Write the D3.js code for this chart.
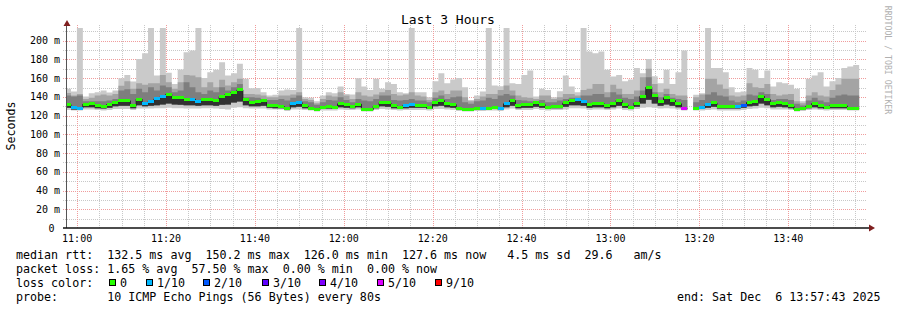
<!DOCTYPE html>
<html>
<head>
<meta charset="utf-8">
<script src="https://cdn.jsdelivr.net/npm/d3@7"></script>
<style>
body { margin: 0; background: #fff; }
text { font-family: "DejaVu Sans Mono", monospace; white-space: pre; }
</style>
</head>
<body>
<svg id="chart" width="897" height="310"></svg>
<script>
// smokeping: one bar per 80s step, 10 pings each
const stepSec = 80;
const firstBar = new Date(2025, 11, 6, 10, 57, 17);
const endTime = new Date(2025, 11, 6, 13, 57, 43);
const upperLimit = 213.6;

const median = [
  131.8,128.3,127.9,132.2,132.9,130.8,130.0,131.8,134.3,136.5,
  135.8,130.8,137.5,133.3,135.0,137.9,140.0,142.9,139.0,139.0,
  137.2,137.5,135.0,137.5,137.5,136.1,140.4,142.9,145.0,147.5,
  136.8,134.0,135.4,136.5,131.1,130.4,129.7,127.2,132.6,134.0,
  130.4,127.9,126.2,128.3,129.7,128.6,132.6,131.5,130.0,132.2,
  126.2,126.5,130.0,134.0,133.6,130.8,128.3,130.8,131.8,131.1,
  131.1,128.3,134.0,136.1,132.6,131.8,127.2,126.2,126.9,127.2,
  127.2,127.9,128.3,127.6,132.6,136.1,130.8,131.5,131.8,133.6,
  131.8,128.3,130.0,130.0,133.6,136.5,137.5,135.0,131.5,132.6,
  132.6,130.8,132.6,136.5,131.5,129.0,133.3,140.7,150.2,141.5,
  135.4,139.0,136.1,132.6,127.9,null,127.9,128.3,131.5,133.6,
  129.7,129.7,129.4,129.4,131.1,134.0,135.4,140.7,137.2,132.6,
  133.6,132.6,130.4,126.5,127.6,130.0,132.9,130.4,128.3,130.4,
  130.4,130.4,127.9,127.9
];

// lost pings out of 10
const loss = [
  0,1,1,0,0,0,0,0,0,0,
  0,0,0,1,1,1,1,0,0,0,
  0,1,1,0,0,0,0,0,0,0,
  0,0,0,0,0,0,0,0,1,1,
  0,0,0,0,0,0,0,0,0,0,
  0,0,0,0,0,0,0,1,1,0,
  0,0,0,0,0,0,0,0,0,0,
  1,0,0,1,1,0,0,0,0,0,
  0,0,0,0,0,0,1,1,0,0,
  0,0,0,0,0,0,0,0,0,0,
  0,0,0,0,5,null,0,1,1,0,
  0,0,0,1,2,0,0,0,0,0,
  0,0,0,0,0,0,0,0,0,0,
  0,0,0,0
];

const pingMax = [
  148.6,145.7,213.6,140.4,144.0,145.0,146.8,144.7,146.8,160.0,
  163.5,156.4,180.6,186.7,213.6,162.8,213.6,165.7,153.9,169.2,
  187.7,189.5,213.6,160.3,166.4,168.9,177.1,162.8,165.3,175.3,
  159.3,149.3,149.6,145.0,141.5,142.2,146.8,147.9,147.5,213.6,
  139.7,139.0,135.4,141.5,145.0,144.0,151.1,143.2,142.5,160.0,
  151.1,147.5,159.3,148.6,155.7,153.9,145.0,144.0,213.6,145.0,
  145.0,139.7,156.8,165.3,154.6,158.5,160.3,150.4,136.8,141.5,
  145.7,213.6,152.1,151.4,213.6,154.6,153.9,163.5,168.2,140.4,
  148.6,147.5,139.7,146.1,162.8,151.1,145.0,213.6,188.5,186.7,
  188.5,168.9,161.8,163.5,156.8,158.5,171.0,165.3,180.6,162.1,
  154.6,168.9,153.9,166.4,189.5,null,142.2,144.0,213.6,171.0,
  171.0,166.4,150.4,145.0,145.7,171.0,168.9,160.3,168.2,151.1,
  155.7,154.6,152.9,148.6,135.4,159.3,162.8,166.4,151.1,156.8,
  160.3,171.0,172.5,174.2
];

const pingHigh = [
  144.3,141.5,143.2,137.9,139.0,141.5,142.5,141.5,143.2,152.0,
  156.8,148.6,154.6,152.9,154.6,154.6,163.5,155.7,148.6,155.7,
  163.5,162.8,161.0,150.4,155.7,150.4,158.2,152.1,155.7,159.3,
  143.2,143.2,142.5,141.5,139.7,139.7,141.5,141.5,142.5,145.0,
  137.9,136.8,133.3,137.9,141.5,140.4,145.0,141.5,137.9,145.0,
  141.5,140.4,142.5,145.0,147.5,143.2,141.5,142.5,145.0,141.5,
  140.4,136.8,145.0,146.8,143.2,146.8,146.8,139.7,135.4,137.9,
  140.4,143.2,143.2,147.5,152.1,146.8,141.5,139.7,139.0,137.9,
  141.5,141.5,137.9,139.7,143.2,143.2,141.5,147.5,148.6,153.9,
  153.9,145.0,152.9,148.6,143.2,143.2,146.8,161.0,170.0,153.9,
  145.0,148.6,143.2,141.5,141.5,null,139.7,142.5,159.3,159.3,
  153.2,148.6,141.5,140.4,141.5,154.6,150.4,149.6,153.9,143.2,
  141.5,142.5,143.2,135.4,133.3,141.5,145.0,141.5,140.4,147.5,
  153.2,159.3,159.3,159.3
];

const pingMid = [
  141.5,140.4,141.5,135.4,135.4,135.4,135.4,136.1,137.9,146.8,
  148.2,143.2,148.6,145.0,150.4,146.8,152.1,150.4,145.0,146.8,
  155.7,150.4,145.0,143.2,146.8,145.0,150.4,146.8,150.4,153.9,
  139.7,139.7,139.0,137.9,136.8,136.8,137.9,136.1,139.0,141.5,
  135.4,134.3,131.5,134.3,136.8,136.1,139.7,136.8,134.3,137.9,
  136.1,135.4,137.9,141.5,141.5,136.8,136.1,136.8,137.9,136.1,
  136.1,134.3,139.0,141.5,137.9,139.7,140.4,134.3,132.6,135.4,
  136.1,139.0,137.9,141.5,143.2,141.5,136.8,136.1,135.4,135.4,
  136.8,134.3,134.3,136.1,137.9,139.0,139.0,141.5,141.5,143.2,
  143.2,139.7,145.0,142.5,139.0,137.9,140.4,146.8,161.0,145.0,
  139.7,143.2,139.0,137.9,136.8,null,134.3,136.8,142.5,145.0,
  141.5,140.4,136.1,134.3,136.1,142.5,141.5,145.0,143.2,136.8,
  137.9,137.9,136.8,132.6,130.8,136.1,139.0,136.1,134.3,139.0,
  141.5,142.5,141.5,141.5
];

const pingLow = [
  128.5,126.5,126.5,129.0,129.0,128.0,127.5,128.5,130.0,130.5,
  130.5,128.0,131.0,130.0,130.5,131.0,132.0,133.0,132.0,131.5,
  131.0,131.0,130.5,131.0,131.0,130.5,131.5,132.0,134.0,135.0,
  131.0,130.0,130.0,130.5,128.5,128.0,128.0,126.5,129.0,129.5,
  128.0,126.5,125.5,127.0,127.5,127.0,129.0,128.5,128.0,129.0,
  125.5,125.5,128.0,130.0,129.5,128.0,127.0,128.0,128.5,128.5,
  128.5,127.0,130.0,130.5,129.0,128.5,126.0,125.5,125.5,126.0,
  126.0,126.5,127.0,126.5,129.0,130.5,128.0,128.5,128.5,129.5,
  128.5,127.0,128.0,128.0,129.5,131.0,131.0,130.5,128.5,129.0,
  129.0,128.0,129.0,130.5,128.5,127.5,129.5,133.0,137.0,133.0,
  130.5,132.0,130.5,129.0,126.5,null,126.5,127.0,128.5,129.5,
  127.5,127.5,127.5,127.5,128.5,130.0,130.5,133.0,131.0,129.0,
  129.5,129.0,128.0,125.5,126.0,128.0,129.0,128.0,127.0,128.0,
  128.0,128.0,126.5,126.5
];

const pingMin = [
  126.0,125.5,125.5,126.5,126.5,126.0,125.5,126.0,127.0,127.0,
  127.0,126.0,127.5,127.5,127.5,128.0,128.0,128.5,128.0,128.0,
  127.5,127.5,127.5,128.0,128.0,127.5,127.0,126.5,128.5,129.0,
  128.0,127.5,127.5,127.5,126.5,126.5,126.5,125.0,126.5,126.5,
  126.0,125.5,124.5,125.5,125.5,125.5,126.5,126.0,126.0,126.5,
  124.5,124.5,126.0,127.0,126.5,126.0,125.5,126.0,126.0,126.0,
  126.0,125.5,127.0,127.0,126.5,126.0,125.0,124.5,124.5,125.0,
  125.0,125.5,125.5,125.0,126.5,127.5,126.0,126.0,126.0,127.0,
  126.0,125.5,126.0,126.0,126.5,128.0,128.0,127.5,126.0,126.5,
  126.5,126.0,126.5,127.5,126.0,125.5,127.0,128.5,129.0,128.5,
  127.5,128.0,127.5,126.5,125.5,null,125.5,125.5,126.0,126.5,
  125.5,125.5,125.5,125.5,126.0,127.0,127.5,128.5,128.0,126.5,
  126.5,126.5,126.0,124.5,125.0,126.0,126.5,126.0,125.5,126.0,
  126.0,126.0,125.5,125.5
];

const yTicks = [0, 20, 40, 60, 80, 100, 120, 140, 160, 180, 200];
const lossLevels = [0, 1, 2, 3, 4, 5, 9];
const lossLabels = ["0", "1/10", "2/10", "3/10", "4/10", "5/10", "9/10"];
const lossColors = ["#26ff00", "#00b8ff", "#0059ff", "#5e00ff", "#7e00ff", "#dd00ff", "#ff0000"];

const statsLine = "median rtt:  132.5 ms avg  150.2 ms max  126.0 ms min  127.6 ms now   4.5 ms sd  29.6   am/s";
const lossLine = "packet loss: 1.65 % avg  57.50 % max  0.00 % min  0.00 % now";
const probeLine = "probe:       10 ICMP Echo Pings (56 Bytes) every 80s";
const endLine = "end: Sat Dec  6 13:57:43 2025";

const svg = d3.select("#chart");

const xScale = d3.scaleTime()
    .domain([d3.timeSecond.offset(endTime, -10800), endTime])
    .range([67, 867]);

const yScale = d3.scaleLinear()
    .domain([0, upperLimit])
    .range([228, 28]);

const lossColor = d3.scaleOrdinal().domain(lossLevels).range(lossColors);

const bars = median.map((m, i) => ({
    t0: d3.timeSecond.offset(firstBar, i * stepSec),
    t1: d3.timeSecond.offset(firstBar, (i + 1) * stepSec),
    median: m, loss: loss[i],
    max: pingMax[i], high: pingHigh[i], mid: pingMid[i], low: pingLow[i], min: pingMin[i]
}));
const steps = bars.flatMap(d => [{t: d.t0, d}, {t: d.t1, d}]);

svg.append("defs").append("clipPath").attr("id", "plot")
    .append("rect").attr("x", 67).attr("y", 28).attr("width", 800).attr("height", 200);

// grid
const px = v => Math.round(v) + 0.5;
const hGrid = d3.range(10, 220, 10);
svg.append("g")
    .selectAll("line")
    .data(hGrid)
    .join("line")
    .attr("x1", 63).attr("x2", 867)
    .attr("y1", d => px(yScale(d))).attr("y2", d => px(yScale(d)))
    .attr("stroke", d => d % 20 === 0 ? "#f09c9c" : "#c8c8c8")
    .attr("stroke-dasharray", "1,1");

const minorTimes = d3.timeMinute.every(5).range(xScale.domain()[0], endTime);
svg.append("g")
    .selectAll("line")
    .data(minorTimes)
    .join("line")
    .attr("x1", d => px(xScale(d))).attr("x2", d => px(xScale(d)))
    .attr("y1", 228).attr("y2", 25)
    .attr("stroke", d => d.getMinutes() % 20 === 0 ? "#f09c9c" : "#c8c8c8")
    .attr("stroke-dasharray", "1,1");

// smoke
const plot = svg.append("g").attr("clip-path", "url(#plot)");
const bands = [
    ["min", "max", "#cacaca"],
    ["low", "high", "#a4a4a4"],
    ["low", "mid", "#7e7e7e"],
    ["low", "median", "#323232"]
];
bands.forEach(([lo, hi, color]) => {
    const area = d3.area()
        .defined(p => p.d.median != null)
        .x(p => xScale(p.t))
        .y0(p => yScale(p.d[lo]))
        .y1(p => yScale(p.d[hi]));
    plot.append("path").datum(steps).attr("fill", color).attr("d", area);
});

const medianLine = d3.line()
    .defined(p => p.d.median != null)
    .x(p => xScale(p.t))
    .y(p => yScale(p.d.median));
plot.append("path").datum(steps)
    .attr("fill", "none").attr("stroke", "#202020").attr("stroke-width", 1)
    .attr("d", medianLine);

plot.append("g")
    .attr("shape-rendering", "crispEdges")
    .selectAll("rect")
    .data(bars.filter(d => d.median != null))
    .join("rect")
    .attr("x", d => xScale(d.t0))
    .attr("width", d => xScale(d.t1) - xScale(d.t0))
    .attr("y", d => yScale(d.median) - 1.5)
    .attr("height", 3)
    .attr("fill", d => lossColor(d.loss));

// axes
svg.append("line").attr("x1", 66.5).attr("x2", 66.5).attr("y1", 228).attr("y2", 24)
    .attr("stroke", "#555");
svg.append("line").attr("x1", 63).attr("x2", 869).attr("y1", 228).attr("y2", 228)
    .attr("stroke", "#111").attr("stroke-width", 1.5);
svg.append("path").attr("d", "M63.5,26L70.5,26L67,20Z").attr("fill", "#7f1f1f");
svg.append("path").attr("d", "M869,224.5L869,231.5L875,228Z").attr("fill", "#7f1f1f");

svg.append("g")
    .attr("font-size", 10)
    .attr("text-anchor", "end")
    .selectAll("text")
    .data(yTicks)
    .join("text")
    .attr("x", d => d === 0 ? 54.5 : 60)
    .attr("y", d => yScale(d) + 3.5)
    .text(d => d === 0 ? "0" : d + " m");

svg.append("g")
    .attr("font-size", 10)
    .attr("text-anchor", "middle")
    .selectAll("text")
    .data(minorTimes.filter(d => d.getMinutes() % 20 === 0))
    .join("text")
    .attr("x", d => xScale(d))
    .attr("y", 242)
    .text(d3.timeFormat("%H:%M"));

svg.append("text")
    .attr("x", 448).attr("y", 24)
    .attr("text-anchor", "middle")
    .attr("font-size", 13)
    .text("Last 3 Hours");

svg.append("text")
    .attr("transform", "translate(15,126) rotate(-90)")
    .attr("text-anchor", "middle")
    .attr("font-size", 11.6)
    .text("Seconds");

svg.append("text")
    .attr("transform", "translate(884.5,60) rotate(90)")
    .attr("text-anchor", "middle")
    .attr("font-size", 8.2)
    .attr("fill", "#b0b0b0")
    .text("RRDTOOL / TOBI OETIKER");

// legend
const legend = svg.append("g").attr("font-size", 11.66);
legend.append("text").attr("x", 16).attr("y", 258.5).text(statsLine);
legend.append("text").attr("x", 16).attr("y", 272.5).text(lossLine);
legend.append("text").attr("x", 16).attr("y", 286.5).text("loss color:");
legend.append("text").attr("x", 16).attr("y", 300.5).text(probeLine);
legend.append("text").attr("x", 677).attr("y", 300.5).text(endLine);

const boxX = [109, 145.7, 203.3, 261.7, 319, 376.7, 435];
const entry = legend.selectAll("g.entry")
    .data(lossLevels)
    .join("g")
    .attr("class", "entry")
    .attr("transform", (d, i) => `translate(${Math.round(boxX[i])},0)`);
entry.append("rect")
    .attr("x", 0.5).attr("y", 279.5).attr("width", 6).attr("height", 6)
    .attr("fill", d => lossColor(d))
    .attr("stroke", "#000").attr("stroke-width", 1);
entry.append("text")
    .attr("x", 11).attr("y", 286.5)
    .text((d, i) => lossLabels[i]);
</script>
</body>
</html>
